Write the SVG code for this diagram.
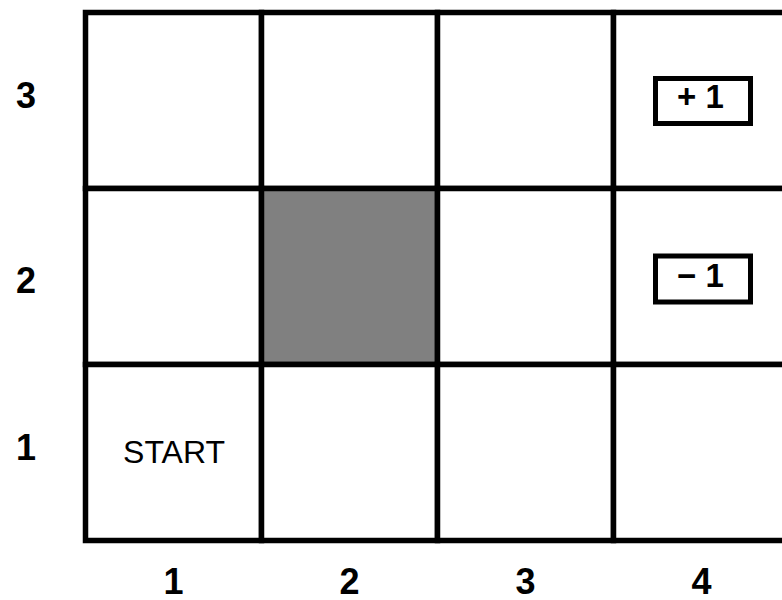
<svg xmlns="http://www.w3.org/2000/svg" width="782" height="600" viewBox="0 0 782 600">
<style>
.cell{fill:#ffffff;stroke:#000000;stroke-width:5.5}
.wall{fill:#808080;stroke:#000000;stroke-width:5.5}
.box{fill:#ffffff;stroke:#000000;stroke-width:5}
.ax{font-family:"Liberation Sans",Arial,sans-serif;font-weight:bold;font-size:36px;text-anchor:middle;fill:#000}
.rw{font-family:"Liberation Sans",Arial,sans-serif;font-weight:bold;font-size:33px;text-anchor:middle;fill:#000}
.st{font-family:"Liberation Sans",Arial,sans-serif;font-size:32px;text-anchor:middle;fill:#000}
</style>
<rect width="782" height="600" fill="#ffffff"/>
<g id="cell-1-3"><rect class="cell" x="85.5" y="12.5" width="176" height="176"/></g>
<g id="cell-2-3"><rect class="cell" x="261.5" y="12.5" width="176" height="176"/></g>
<g id="cell-3-3"><rect class="cell" x="437.5" y="12.5" width="176" height="176"/></g>
<g id="cell-4-3"><rect class="cell" x="613.5" y="12.5" width="176" height="176"/>
<rect class="box" x="655.5" y="78.5" width="95" height="45"/><text class="rw" x="700.5" y="107.5">+ 1</text></g>
<g id="cell-1-2"><rect class="cell" x="85.5" y="188.5" width="176" height="176"/></g>
<g id="cell-2-2"><rect class="wall" x="261.5" y="188.5" width="176" height="176"/></g>
<g id="cell-3-2"><rect class="cell" x="437.5" y="188.5" width="176" height="176"/></g>
<g id="cell-4-2"><rect class="cell" x="613.5" y="188.5" width="176" height="176"/>
<rect class="box" x="655.5" y="256" width="95" height="46"/><text class="rw" x="700.5" y="286.5">− 1</text></g>
<g id="cell-1-1"><rect class="cell" x="85.5" y="364.5" width="176" height="176"/><text class="st" x="174" y="462.5">START</text></g>
<g id="cell-2-1"><rect class="cell" x="261.5" y="364.5" width="176" height="176"/></g>
<g id="cell-3-1"><rect class="cell" x="437.5" y="364.5" width="176" height="176"/></g>
<g id="cell-4-1"><rect class="cell" x="613.5" y="364.5" width="176" height="176"/></g>
<g id="connectors"></g>
<g id="axis-labels">
<text class="ax" x="26" y="108">3</text>
<text class="ax" x="26" y="293">2</text>
<text class="ax" x="26" y="460">1</text>
<text class="ax" x="173.5" y="594">1</text>
<text class="ax" x="349.5" y="594">2</text>
<text class="ax" x="525.5" y="594">3</text>
<text class="ax" x="701.5" y="594">4</text>
</g>
</svg>
